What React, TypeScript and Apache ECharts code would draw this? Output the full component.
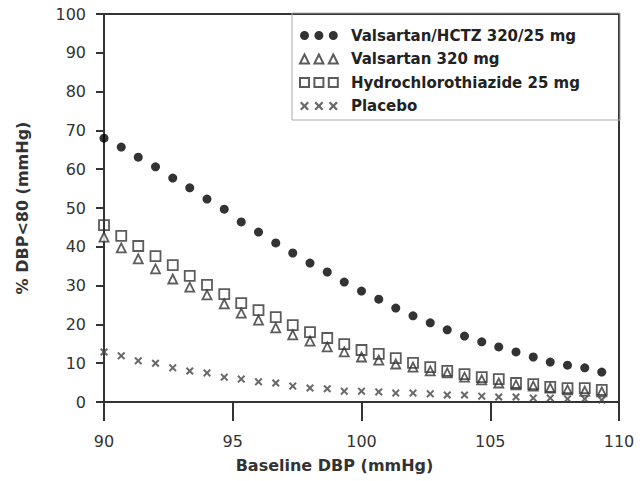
import React, { useEffect, useRef } from "react";
import * as echarts from "echarts";

const baselineDBP = [
  90, 90.67, 91.33, 92, 92.67, 93.33, 94, 94.67, 95.33, 96,
  96.67, 97.33, 98, 98.67, 99.33, 100, 100.67, 101.33, 102, 102.67,
  103.33, 104, 104.67, 105.33, 106, 106.67, 107.33, 108, 108.67, 109.33,
];
const comboValues = [
  68.0, 65.7, 63.1, 60.6, 57.7, 55.2, 52.3, 49.7, 46.4, 43.8,
  41.0, 38.4, 35.8, 33.5, 30.9, 28.6, 26.5, 24.2, 22.2, 20.4,
  18.6, 17.0, 15.5, 14.2, 12.9, 11.6, 10.3, 9.5, 8.8, 7.7,
];
const valsartanValues = [
  42.5, 39.7, 36.9, 34.3, 31.7, 29.6, 27.6, 25.3, 22.9, 21.1,
  19.1, 17.3, 15.7, 14.2, 12.9, 11.6, 10.8, 9.8, 9.0, 8.0,
  7.5, 6.4, 5.7, 4.9, 4.4, 4.1, 3.6, 3.1, 2.8, 2.6,
];
const hctzValues = [
  45.6, 42.8, 40.2, 37.6, 35.3, 32.5, 30.2, 27.8, 25.5, 23.7,
  21.9, 19.8, 18.0, 16.5, 14.9, 13.4, 12.4, 11.3, 10.1, 9.0,
  8.0, 7.2, 6.4, 5.9, 4.9, 4.6, 3.9, 3.6, 3.6, 3.1,
];
const placeboValues = [
  12.9, 11.9, 10.6, 10.0, 8.8, 8.0, 7.5, 6.4, 5.9, 5.2,
  4.9, 4.1, 3.6, 3.4, 2.8, 2.8, 2.6, 2.3, 2.3, 2.1,
  1.8, 1.8, 1.5, 1.3, 1.3, 1.0, 1.0, 0.8, 0.8, 0.5,
];
const seriesNames = [
  "Valsartan/HCTZ 320/25 mg",
  "Valsartan 320 mg",
  "Hydrochlorothiazide 25 mg",
  "Placebo",
];

const pair = (ys: number[]) => ys.map((y, i) => [baselineDBP[i], y]);

const crossAt = (o: number) =>
  `M${o},1.8L${o + 1.8},0L${o + 5},3.2L${o + 8.2},0L${o + 10},1.8L${o + 6.8},5L${o + 10},8.2L${o + 8.2},10L${o + 5},6.8L${o + 1.8},10L${o},8.2L${o + 3.2},5Z`;
const CROSS = "path://" + crossAt(0);
const ICON_DOTS =
  "path://M0,5a5,5 0 1,0 10,0a5,5 0 1,0 -10,0Z M16,5a5,5 0 1,0 10,0a5,5 0 1,0 -10,0Z M32,5a5,5 0 1,0 10,0a5,5 0 1,0 -10,0Z";
const ICON_TRI = "path://M5,0L10,10L0,10Z M21,0L26,10L16,10Z M37,0L42,10L32,10Z";
const ICON_SQ = "path://M0,0L10,0L10,10L0,10Z M16,0L26,0L26,10L16,10Z M32,0L42,0L42,10L32,10Z";
const ICON_X = "path://" + crossAt(0) + " " + crossAt(16) + " " + crossAt(32);

const GRID = { left: 104, right: 21, top: 14, bottom: 79 };

export default function App() {
  const ref = useRef<HTMLDivElement>(null);
  const tickRef = useRef<HTMLDivElement>(null);

  useEffect(() => {
    document.body.style.margin = "0";
    if (!ref.current) return;
    const chart = echarts.init(ref.current, null, { renderer: "svg" });
    const font = "DejaVu Sans";
    const lineStyle = { color: "#333", width: 2 };
    const frameAxis = {
      type: "value",
      axisLine: { show: true, onZero: false, lineStyle },
      axisTick: { show: false },
      axisLabel: { show: false },
      splitLine: { show: false },
    };
    chart.setOption({
      animation: false,
      backgroundColor: "#ffffff",
      grid: GRID,
      graphic: [
        {
          type: "rect",
          shape: { x: 292, y: 13, width: 328, height: 107 },
          style: { fill: "none", stroke: "#aaa", lineWidth: 1 },
          z: 1,
        },
      ],
      legend: {
        orient: "vertical",
        left: 292,
        top: 13,
        padding: [15, 10, 8, 7],
        itemGap: 8.5,
        itemWidth: 42,
        itemHeight: 9,
        selectedMode: false,
        textStyle: {
          fontFamily: font,
          fontSize: 15,
          fontWeight: "bold",
          color: "#222",
          lineHeight: 15,
          padding: [0, 0, 0, 6],
        },
        data: [
          { name: seriesNames[0], icon: ICON_DOTS },
          { name: seriesNames[1], icon: ICON_TRI },
          { name: seriesNames[2], icon: ICON_SQ },
          { name: seriesNames[3], icon: ICON_X },
        ],
      },
      xAxis: [
        {
          type: "value",
          min: 90,
          max: 110,
          interval: 5,
          name: "Baseline DBP (mmHg)",
          nameLocation: "middle",
          nameGap: 55,
          nameTextStyle: {
            fontFamily: font,
            fontSize: 16,
            fontWeight: "bold",
            color: "#333",
            padding: [0, 54, 0, 0],
          },
          axisLine: { show: true, onZero: false, lineStyle },
          axisTick: { show: true, length: 19, lineStyle },
          axisLabel: { margin: 31, fontFamily: font, fontSize: 16, color: "#333" },
          splitLine: { show: false },
        },
        { ...frameAxis, position: "top", min: 90, max: 110 },
      ],
      yAxis: [
        {
          type: "value",
          min: 0,
          max: 100,
          interval: 10,
          name: "% DBP<80 (mmHg)",
          nameLocation: "middle",
          nameGap: 74,
          nameTextStyle: {
            fontFamily: font,
            fontSize: 16,
            fontWeight: "bold",
            color: "#333",
          },
          axisLine: { show: true, onZero: false, lineStyle },
          axisTick: { show: true, length: 8, lineStyle },
          axisLabel: { margin: 18, fontFamily: font, fontSize: 16, color: "#333" },
          splitLine: { show: false },
        },
        { ...frameAxis, position: "right", min: 0, max: 100 },
      ],
      series: [
        {
          name: seriesNames[3],
          type: "scatter",
          data: pair(placeboValues),
          symbol: CROSS,
          symbolSize: 8,
          itemStyle: { color: "#444" },
          z: 3,
        },
        {
          name: seriesNames[1],
          type: "scatter",
          data: pair(valsartanValues),
          symbol: "triangle",
          symbolSize: 9,
          itemStyle: { color: "#ffffff", borderColor: "#333", borderWidth: 1.8 },
          z: 3,
        },
        {
          name: seriesNames[2],
          type: "scatter",
          data: pair(hctzValues),
          symbol: "rect",
          symbolSize: 10,
          itemStyle: { color: "rgba(255,255,255,0)", borderColor: "#333", borderWidth: 1.8 },
          z: 4,
        },
        {
          name: seriesNames[0],
          type: "scatter",
          data: pair(comboValues),
          symbol: "circle",
          symbolSize: 9,
          itemStyle: { color: "#000" },
          z: 5,
        },
      ],
    });
    return () => chart.dispose();
  }, []);

  // Transparent overlay that only draws the outward tick marks of both axes.
  useEffect(() => {
    if (!tickRef.current) return;
    const ticks = echarts.init(tickRef.current, null, { renderer: "svg" });
    const tickLine = { color: "#333", width: 2 };
    ticks.setOption({
      animation: false,
      grid: GRID,
      xAxis: {
        type: "value",
        min: 90,
        max: 110,
        interval: 5,
        axisLine: { show: false },
        axisTick: { show: true, length: 19, lineStyle: tickLine },
        axisLabel: { show: false },
        splitLine: { show: false },
      },
      yAxis: {
        type: "value",
        min: 0,
        max: 100,
        interval: 10,
        axisLine: { show: false },
        axisTick: { show: true, length: 8, lineStyle: tickLine },
        axisLabel: { show: false },
        splitLine: { show: false },
      },
      series: [
        {
          type: "scatter",
          data: pair(comboValues),
          symbolSize: 0,
          silent: true,
          itemStyle: { opacity: 0 },
        },
      ],
    });
    return () => ticks.dispose();
  }, []);

  return (
    <div style={{ position: "relative", width: 640, height: 481 }}>
      <div ref={ref} style={{ position: "absolute", left: 0, top: 0, width: 640, height: 481 }} />
      <div
        ref={tickRef}
        style={{ position: "absolute", left: 0, top: 0, width: 640, height: 481, pointerEvents: "none" }}
      />
    </div>
  );
}
